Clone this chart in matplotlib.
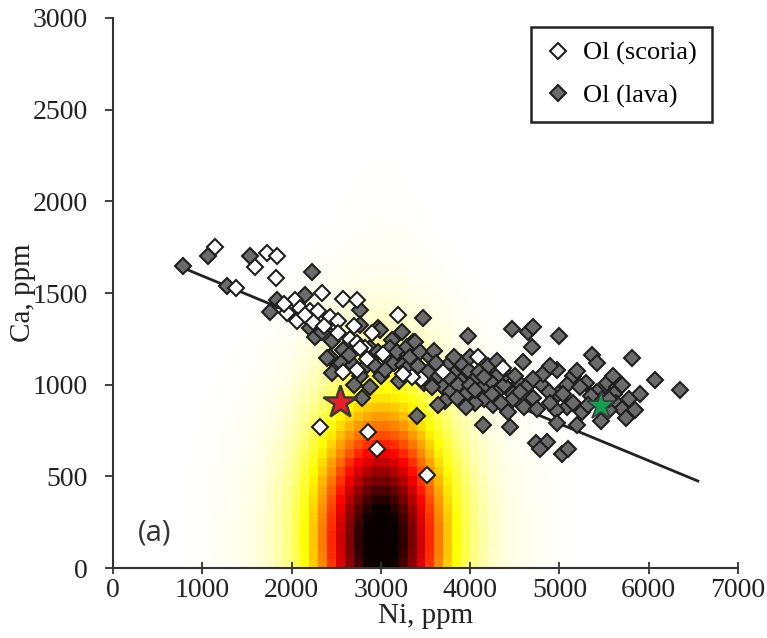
import numpy as np
from matplotlib import pyplot as plt

# Olivine analyses: Ni vs Ca (ppm)
lava_ni = [780, 1060, 1530, 2230, 1280, 1840, 2150, 1760, 2210, 2260, 2340, 2450, 2580, 2430,
           2450, 2400, 2550,
           2770, 2690, 2880, 2790, 2970, 3240, 3130, 3360, 2770, 2880, 2970, 3060, 2850, 3000,
           2770, 3150, 3250, 3360, 3290, 3200, 3400, 3470, 2990, 3100, 3050, 2920, 3180, 3300,
           2640, 2700,
           3290, 3380, 3330, 3440, 3550, 3600, 3420, 3530, 3650, 3740, 3820, 3900, 3980, 3700,
           3780, 3860, 3950, 4060, 4140, 4230, 4300, 4380, 4480, 4550, 4400, 4200, 3980, 4470,
           4650, 4700, 4690, 4590, 4480, 4600, 4700, 4260, 4160, 4050, 3720, 3640, 4140, 4450,
           4740, 4860, 4780, 3900, 4000, 3850, 3950, 4320, 4100, 4350, 4500, 4250, 3620, 3480,
           4000, 4650, 4150, 3570, 4420, 4560, 3820, 4050, 4300, 3760,
           4990, 5370, 5420, 5810, 6070, 6350, 4970, 5150, 5200, 5300, 5530, 5640, 5420, 5480,
           5610, 5630, 5700, 5780, 5850, 4980, 5080, 5230, 5350, 5080, 5150, 5250, 4960, 5460,
           5750, 5200, 4970, 5560, 5030, 5100, 4800, 4880, 4900, 4750, 4820, 5320, 5600, 5700,
           5900, 5550, 5040, 4700, 4900]
lava_ca = [1645, 1700, 1700, 1615, 1540, 1460, 1490, 1395, 1310, 1260, 1285, 1240, 1190, 1150,
           1065, 1145, 1120,
           1405, 1110, 990, 930, 1310, 1290, 1245, 1235, 1325, 1200, 1180, 1150, 1105, 1045,
           1050, 1120, 1110, 1060, 1090, 1020, 830, 1365, 1300, 1200, 1080, 1110, 1180, 1160,
           1160, 1000,
           1205, 1235, 1150, 1180, 1150, 1185, 1100, 1070, 1050, 1100, 1060, 1020, 1080, 990,
           960, 1000, 950, 1030, 985, 1020, 960, 1000, 950, 1010, 1060, 1100, 1265, 1305,
           1290, 1315, 1205, 1125, 920, 880, 930, 890, 920, 900, 910, 890, 780, 770,
           680, 690, 650, 1120, 1150, 930, 880, 1060, 1070, 900, 1050, 950, 1120, 1010,
           1000, 1000, 1040, 990, 850, 960, 1150, 970, 1130, 1040,
           1265, 1160, 1120, 1145, 1025, 970, 1080, 1050, 1075, 1010, 1010, 990, 960, 920,
           950, 900, 870, 920, 860, 950, 1000, 990, 940, 880, 900, 850, 860, 800,
           820, 780, 790, 860, 620, 650, 1000, 960, 900, 870, 1060, 890, 1050, 1000,
           950, 920, 950, 1030, 1100]

scoria_ni = [1140, 1730, 1840, 1590, 1830, 1380, 2040, 2340, 2580, 2730, 1950, 2090, 2060, 2210,
             2300, 2430, 2520, 2240, 2650, 2730, 2820, 2580, 2730, 2850, 2770, 3190, 2320, 2860,
             2960, 3520, 3450, 3700, 4090, 4370, 3350, 2360, 2520, 3020, 3250, 2150, 1920, 2700,
             2900]
scoria_ca = [1750, 1720, 1700, 1640, 1580, 1530, 1460, 1500, 1470, 1460, 1390, 1420, 1350, 1400,
             1400, 1370, 1350, 1340, 1250, 1230, 1200, 1070, 1080, 1140, 1200, 1380, 770, 740,
             650, 510, 1030, 1070, 1150, 1090, 1040, 1320, 1280, 1170, 1060, 1380, 1440, 1320,
             1280]

# linear trend through the lava olivines
fit_slope = -0.2016
fit_intercept = 1795
fit_ni_range = [790, 6550]

# reference compositions (stars)
red_star = (2540, 905)
green_star = (5460, 885)

# equilibrium probability field: core + broad skirt + faint upward plume
field_center = (3000, 150)
field_sigma = (480, 470)
skirt_amp = 0.06
skirt_sigma = (950, 650)
halo_amp = 0.012
halo_sigma = (450, 1300)

plt.rcParams['font.family'] = ['Liberation Serif', 'DejaVu Serif']

fig = plt.figure(figsize=(7.67, 6.38), dpi=100)
ax = fig.add_axes([0.1473, 0.1097, 0.8149, 0.8621])

# pixelated density grid
ni_edges = np.arange(0, 7001, 100)
ca_edges = np.arange(0, 3001, 50)
nc = 0.5 * (ni_edges[:-1] + ni_edges[1:])
cc = 0.5 * (ca_edges[:-1] + ca_edges[1:])
NI, CA = np.meshgrid(nc, cc)
dx = (NI - field_center[0])
dy = (CA - field_center[1])


def bump(amp, sig):
    return amp * np.exp(-0.5 * (dx / sig[0]) ** 2 - 0.5 * (dy / sig[1]) ** 2)


dens = bump(1.0, field_sigma) + bump(skirt_amp, skirt_sigma) + bump(halo_amp, halo_sigma)
ax.pcolormesh(ni_edges, ca_edges, dens, cmap='hot_r', vmin=0, vmax=1, shading='flat', zorder=0)

xl = np.array(fit_ni_range)
ax.plot(xl, fit_intercept + fit_slope * xl, color='#222222', lw=2, zorder=2)

ax.plot(lava_ni, lava_ca, 'D', ms=8, mfc='#6b6b6b', mec='#1e1e1e', mew=1.5,
        ls='none', zorder=3, label='Ol (lava)')
ax.plot(scoria_ni, scoria_ca, 'D', ms=8, mfc='white', mec='#1e1e1e', mew=1.5,
        ls='none', zorder=3, label='Ol (scoria)')

ax.plot(*red_star, '*', ms=25, mfc='#e8202a', mec='#3a3a3a', mew=1.8, zorder=4)
ax.plot(*green_star, '*', ms=21, mfc='#10a050', mec='#3a3a3a', mew=1.2, zorder=4)

ax.set_xlim(0, 7000)
ax.set_ylim(0, 3000)
ax.set_xticks(np.arange(0, 7001, 1000))
ax.set_yticks(np.arange(0, 3001, 500))
ax.set_xlabel('Ni, ppm', fontsize=21, labelpad=0, color='#222222')
ax.set_ylabel('Ca, ppm', fontsize=21, labelpad=-2, color='#222222')

for side in ['top', 'right']:
    ax.spines[side].set_visible(False)
for side in ['left', 'bottom']:
    ax.spines[side].set_linewidth(1.5)
    ax.spines[side].set_color('#333333')
ax.tick_params(axis='x', direction='inout', length=9, width=1.3, labelsize=20, pad=3,
               colors='#333333', labelcolor='#222222')
ax.tick_params(axis='y', direction='out', length=6, width=1.3, labelsize=20, pad=12,
               colors='#333333', labelcolor='#222222')

ax.text(0.04, 0.05, '(a)', transform=ax.transAxes, fontsize=21, family=['Open Sans', 'DejaVu Sans'],
        color='#333333', zorder=5)

handles, labels = ax.get_legend_handles_labels()
leg = ax.legend(handles[::-1], labels[::-1], loc='upper right', bbox_to_anchor=(0.958, 0.984),
                fontsize=19, frameon=True, fancybox=False, framealpha=1, edgecolor='#222222',
                handlelength=1.0, handletextpad=0.45, labelspacing=0.7, borderpad=0.55,
                borderaxespad=0)
leg.get_frame().set_linewidth(1.8)

fig.savefig('out.png', dpi=100)
